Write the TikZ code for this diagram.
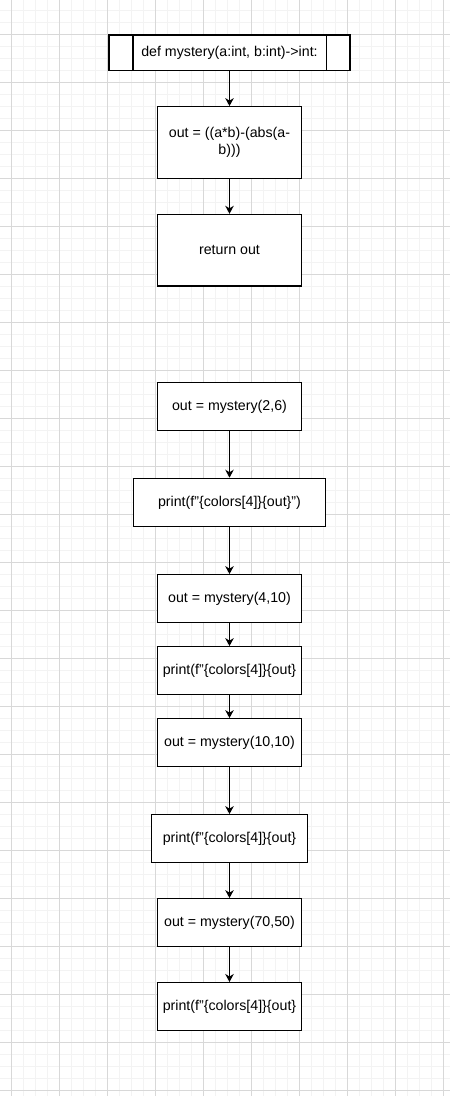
\documentclass[tikz,border=0pt]{standalone}
\usepackage{fontspec}
\setmainfont{Liberation Sans}
\usetikzlibrary{arrows.meta,calc,positioning}
\definecolor{GridMinor}{RGB}{243,243,243}
\definecolor{GridMajor}{RGB}{216,216,216}

\tikzset{
  flowbox/.style={draw, line width=1.2pt, fill=white, inner sep=1pt, align=center,
    minimum width=144pt, minimum height=47.6pt,
    font=\fontsize{14.2}{17}\selectfont},
  flowarrow/.style={line width=1.2pt, -{Stealth[length=8pt,width=8.5pt,inset=2.5pt]}}
}

\begin{document}
\begin{tikzpicture}[x=1pt,y=-1pt]
  \useasboundingbox (0,0) rectangle (450,1096);
  \foreach \i in {0,...,38} \draw[GridMinor, line width=1.4pt] (-0.5+12*\i,0) -- (-0.5+12*\i,1096);
  \foreach \j in {0,...,92} \draw[GridMinor, line width=1.4pt] (0,-1.7+12*\j) -- (450,-1.7+12*\j);
  \foreach \i in {0,...,9} \draw[GridMajor, line width=1pt] (11.5+48*\i,0) -- (11.5+48*\i,1096);
  \foreach \j in {0,...,23} \draw[GridMajor, line width=1pt] (0,-13.7+48*\j) -- (450,-13.7+48*\j);

  \node[flowbox, minimum width=241pt, minimum height=35.6pt] (defn) at (229.5,52.7) {def mystery(a:int, b:int)->int:};
  \draw[line width=1.2pt] ($(defn.north west)+(24.5,0)$) -- ($(defn.south west)+(24.5,0)$);
  \draw[line width=1.2pt] ($(defn.north east)+(-24.5,0)$) -- ($(defn.south east)+(-24.5,0)$);
  \node[flowbox, minimum height=71.6pt] (body) at (229.5,142.5) {out = ((a*b)-(abs(a-\\b)))};
  \node[flowbox, minimum height=71.6pt] (ret) at (229.5,250.2) {return out};

  \node[flowbox] (call1) at (229.5,406.5) {out = mystery(2,6)};
  \node[flowbox, minimum width=192pt, minimum height=48.4pt] (show1) at (229.5,502.5) {print(f\char34\{colors[4]\}\{out\}\char34)};
  \node[flowbox] (call2) at (229.5,598.5) {out = mystery(4,10)};
  \node[flowbox] (show2) at (229.5,670.5) {print(f\char34\{colors[4]\}\{out\}};
  \node[flowbox] (call3) at (229.5,742.5) {out = mystery(10,10)};
  \node[flowbox, minimum width=156pt] (show3) at (229.5,838.5) {print(f\char34\{colors[4]\}\{out\}};
  \node[flowbox] (call4) at (229.5,922.5) {out = mystery(70,50)};
  \node[flowbox] (show4) at (229.5,1006.4) {print(f\char34\{colors[4]\}\{out\}};

  \draw[flowarrow] (defn) -- (body);
  \draw[flowarrow] (body) -- (ret);
  \draw[flowarrow] (call1) -- (show1);
  \draw[flowarrow] (show1) -- (call2);
  \draw[flowarrow] (call2) -- (show2);
  \draw[flowarrow] (show2) -- (call3);
  \draw[flowarrow] (call3) -- (show3);
  \draw[flowarrow] (show3) -- (call4);
  \draw[flowarrow] (call4) -- (show4);
\end{tikzpicture}
\end{document}
